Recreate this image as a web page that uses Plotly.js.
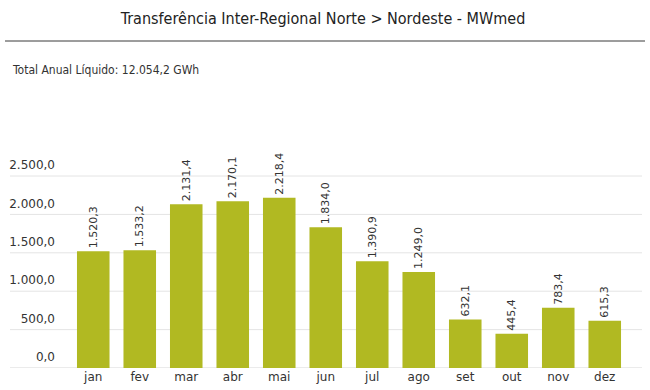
<!DOCTYPE html>
<html>
<head>
<meta charset="utf-8">
<script src="https://cdn.plot.ly/plotly-3.0.1.min.js"></script>
<style>html,body{margin:0;padding:0;background:#fff;}#chart{width:650px;height:390px;}</style>
</head>
<body>
<div id="chart"></div>
<script>
var months = ["jan","fev","mar","abr","mai","jun","jul","ago","set","out","nov","dez"];
var values = [1520.3,1533.2,2131.4,2170.1,2218.4,1834.0,1390.9,1249.0,632.1,445.4,783.4,615.3];
var yTicks = [0,500,1000,1500,2000,2500];
var titleText = "Transferência Inter-Regional Norte > Nordeste - MWmed";
var subtitleText = "Total Anual Líquido: 12.054,2 GWh";

var W = 650, H = 390;
var mL = 70, mR = 22, mT = 153, mB = 22;
var pw = W - mL - mR, ph = H - mT - mB;
function px2paperX(p){ return (p - mL) / pw; }
function px2paperY(p){ return (H - mB - p) / ph; }

var shapes = yTicks.map(function(v){
  return {type:'line', xref:'paper', yref:'y', x0:px2paperX(10), x1:px2paperX(642), y0:v, y1:v,
          line:{color: v===0 ? '#d6d6d6' : '#e4e4e4', width:1}, layer:'below'};
});
shapes.push({type:'line', xref:'paper', yref:'paper', x0:px2paperX(5), x1:px2paperX(645),
             y0:px2paperY(41), y1:px2paperY(41), line:{color:'#3a3a3a', width:1}});

var trace = {
  type:'bar', x:months, y:values,
  marker:{color:'#b1b922'},
  texttemplate:'%{y:,.1f}', textposition:'outside', textangle:-90, constraintext:'none',
  textfont:{family:'DejaVu Sans', size:11, color:'#333'},
  cliponaxis:false, hoverinfo:'none'
};

var layout = {
  width:W, height:H,
  margin:{l:mL, r:mR, t:mT, b:mB, pad:0},
  paper_bgcolor:'#fff', plot_bgcolor:'#fff',
  separators:',.',
  showlegend:false,
  bargap:0.3,
  title:{text:titleText, font:{family:'DejaVu Sans Condensed', size:16, color:'#222'},
         xref:'paper', x:px2paperX(323), xanchor:'center', yref:'container', y:1-18/H, yanchor:'middle'},
  xaxis:{type:'category', showgrid:false, zeroline:false, showline:false, ticks:'',
         tickfont:{family:'DejaVu Sans', size:12, color:'#333'}, range:[-0.5, 11.5], fixedrange:true},
  yaxis:{range:[0,2800], tickvals:yTicks, tickformat:',.1f', showgrid:false, zeroline:false, showline:false,
         ticks:'', ticklabelshift:-11, ticklabelstandoff:14,
         tickfont:{family:'DejaVu Sans', size:12, color:'#333'}, fixedrange:true},
  shapes:shapes,
  annotations:[{text:subtitleText, xref:'paper', yref:'paper', x:px2paperX(10), y:px2paperY(70),
                xanchor:'left', yanchor:'middle', showarrow:false,
                font:{family:'DejaVu Sans Condensed', size:12, color:'#333'}}]
};

Plotly.newPlot('chart', [trace], layout, {displayModeBar:false, staticPlot:true});
</script>
</body>
</html>
